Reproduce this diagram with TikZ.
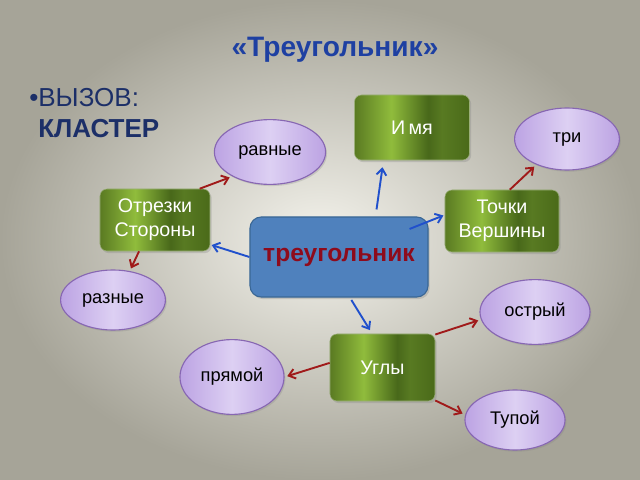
\documentclass[tikz,border=0pt]{standalone}
\usepackage{fontspec}
\setmainfont{Liberation Sans}
\usepackage{xcolor}
\usetikzlibrary{arrows.meta,shapes.geometric,shadows}

\definecolor{titleblue}{HTML}{1E40A2}
\definecolor{textnavy}{HTML}{1C2F68}
\definecolor{boxblue}{HTML}{4F81BD}
\definecolor{boxline}{HTML}{3A6795}
\definecolor{wordred}{HTML}{8E0B1C}
\definecolor{lavlight}{HTML}{DDD0F3}
\definecolor{lavdark}{HTML}{BCA3E3}
\definecolor{lavline}{HTML}{8767B2}
\definecolor{arrblue}{HTML}{2050CC}
\definecolor{arrred}{HTML}{A01A1A}
\definecolor{bgin}{HTML}{F4F3EC}
\definecolor{bgout}{HTML}{A6A498}
\definecolor{gA}{HTML}{5A7A22}
\definecolor{gB}{HTML}{90BC3C}
\definecolor{gC}{HTML}{48681A}
\definecolor{gD}{HTML}{587A22}
\definecolor{gE}{HTML}{4A6A19}

\pgfdeclarehorizontalshading{greenbar}{100bp}{color(0bp)=(gA); color(25bp)=(gA);
  color(41bp)=(gB); color(57bp)=(gC); color(63bp)=(gD); color(75bp)=(gE); color(100bp)=(gE)}

\tikzset{
  greenbox/.style={rectangle, rounded corners=5pt, draw=gD!60!white, line width=0.4pt,
    shading=greenbar, text=white, align=center, font=\fontsize{14}{17}\selectfont,
    drop shadow={shadow xshift=1.2pt, shadow yshift=-1.5pt, opacity=0.3}},
  leaf/.style={ellipse, draw=lavline, line width=0.8pt, left color=lavdark,
    right color=lavdark, middle color=lavlight, inner sep=0pt,
    font=\fontsize{13}{15}\selectfont,
    drop shadow={shadow xshift=1pt, shadow yshift=-1.2pt, opacity=0.25}},
  bluearr/.style={arrblue, line width=1.35pt, -{Straight Barb[length=4.5pt,width=7pt]}},
  redarr/.style={arrred, line width=1.35pt, -{Straight Barb[length=4.5pt,width=7pt]}}
}

\begin{document}
\begin{tikzpicture}[x=0.025cm, y=-0.025cm]
  % background
  \shade[inner color=bgin, outer color=bgout] (0,0) rectangle (640,480);

  \node[text=titleblue, font=\fontsize{20}{24}\selectfont\bfseries] (title) at (335,50) {«Треугольник»};
  \node[text=textnavy, anchor=west, inner sep=0pt, font=\fontsize{18.5}{22}\selectfont] (vyzov) at (29,98) {•ВЫЗОВ:};
  \node[text=textnavy, anchor=west, inner sep=0pt, font=\fontsize{18.5}{22}\selectfont\bfseries] (klaster) at (38,129) {КЛАСТЕР};

  % center
  \node[rectangle, rounded corners=8pt, draw=boxline, line width=0.8pt, fill=boxblue,
    minimum width=4.45cm, minimum height=2cm, text=wordred,
    font=\fontsize{17.5}{20}\selectfont\bfseries,
    drop shadow={shadow xshift=1.2pt, shadow yshift=-1.5pt, opacity=0.3}] (tr) at (339,257) {треугольник};

  % green boxes
  \node[greenbox, minimum width=2.875cm, minimum height=1.625cm] (imya) at (412,127.5) {И\,мя};
  \node[greenbox, minimum width=2.75cm, minimum height=1.55cm] (otr) at (155,220) {Отрезки\\Стороны};
  \node[greenbox, minimum width=2.85cm, minimum height=1.55cm] (tochki) at (502,221) {Точки\\Вершины};
  \node[greenbox, minimum width=2.625cm, minimum height=1.675cm] (ugly) at (382.5,367.5) {Углы};

  % ellipses
  \node[leaf, minimum width=2.78cm, minimum height=1.62cm] (ravn) at (270,152) {равные};
  \node[leaf, minimum width=2.62cm, minimum height=1.55cm] (tri) at (567,139) {три};
  \node[leaf, minimum width=2.62cm, minimum height=1.5cm] (razn) at (113,300) {разные};
  \node[leaf, minimum width=2.75cm, minimum height=1.62cm] (ostr) at (535,312) {острый};
  \node[leaf, minimum width=2.6cm, minimum height=1.87cm] (pryam) at (232,377) {прямой};
  \node[leaf, minimum width=2.5cm, minimum height=1.5cm] (tup) at (515,420) {Тупой};

  % arrows
  \draw[bluearr, shorten <=5pt, shorten >=5pt] (tr.48) -- (imya.229);
  \draw[bluearr, shorten <=54pt, shorten >=1pt] (tr.center) -- (tochki.174);
  \draw[bluearr, shorten >=1pt] (tr.west) -- (otr.-24);
  \draw[bluearr, shorten <=2pt, shorten >=3pt] (tr.-75) -- (ugly.107);
  \foreach \a/\b in {otr.35/ravn.213, tochki.76/tri.220, otr.243/razn.60,
                     ugly.32/ostr.188, ugly.175/pryam.east, ugly.-32/tup.174}
    \draw[redarr, shorten >=2pt] (\a) -- (\b);
\end{tikzpicture}
\end{document}
